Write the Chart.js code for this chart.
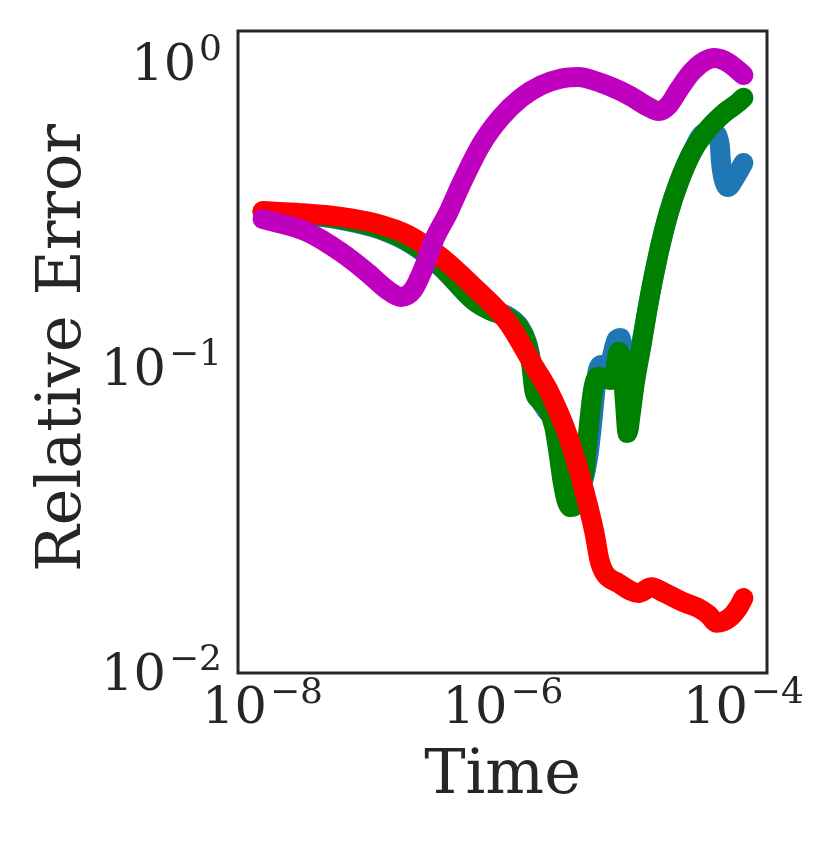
<!DOCTYPE html>
<html>
<head>
<meta charset="utf-8">
<script src="https://cdn.jsdelivr.net/npm/chart.js@4/dist/chart.umd.min.js"></script>
<style>
  html, body { margin: 0; padding: 0; background: #ffffff; }
  #c { display: block; }
</style>
</head>
<body>
<canvas id="c" width="830" height="851"></canvas>
<script>
// ---- data (log-log axes) ----
const blueTime = [1.00e-8, 2.07e-8, 4.47e-8, 9.64e-8, 1.72e-7, 3.05e-7, 5.75e-7, 7.97e-7, 1.06e-6, 1.37e-6,
  1.59e-6, 1.72e-6, 1.82e-6, 2.00e-6, 2.29e-6, 2.67e-6, 3.00e-6, 3.18e-6, 3.37e-6, 3.71e-6,
  4.16e-6, 4.67e-6, 5.14e-6, 5.44e-6, 5.76e-6, 6.11e-6, 6.59e-6, 7.40e-6, 7.99e-6, 8.80e-6,
  9.49e-6, 1.01e-5, 1.045e-5, 1.086e-5, 1.151e-5, 1.242e-5, 1.421e-5, 1.66e-5, 1.97e-5, 2.39e-5,
  2.89e-5, 3.71e-5, 4.77e-5, 5.66e-5, 6.36e-5, 6.48e-5, 6.73e-5, 7.41e-5, 8.48e-5, 1.00e-4];
const blueError = [0.325, 0.318, 0.306, 0.284, 0.255, 0.214, 0.166, 0.154, 0.149, 0.137,
  0.121, 0.105, 0.090, 0.080, 0.0728, 0.0686, 0.0617, 0.0538, 0.0463, 0.0404,
  0.0389, 0.0429, 0.0519, 0.0626, 0.0785, 0.0970, 0.1023, 0.0970, 0.1078, 0.1235,
  0.1254, 0.1023, 0.0815, 0.0675, 0.0756, 0.0913, 0.1217, 0.171, 0.238, 0.322,
  0.404, 0.507, 0.590, 0.590, 0.538, 0.481, 0.429, 0.392, 0.420, 0.470];

const greenTime = [1.00e-8, 2.07e-8, 4.47e-8, 9.64e-8, 1.72e-7, 3.05e-7, 5.75e-7, 7.97e-7, 1.06e-6, 1.37e-6,
  1.59e-6, 1.72e-6, 1.82e-6, 2.00e-6, 2.34e-6, 2.67e-6, 2.89e-6, 3.12e-6, 3.37e-6, 3.64e-6,
  4.00e-6, 4.40e-6, 4.76e-6, 5.04e-6, 5.34e-6, 5.65e-6, 6.11e-6, 6.85e-6, 7.84e-6, 8.63e-6,
  9.14e-6, 9.68e-6, 1.01e-5, 1.045e-5, 1.086e-5, 1.151e-5, 1.242e-5, 1.421e-5, 1.66e-5, 1.97e-5,
  2.39e-5, 2.89e-5, 3.71e-5, 4.77e-5, 6.60e-5, 9.16e-5, 1.00e-4];
const greenError = [0.325, 0.320, 0.308, 0.286, 0.257, 0.216, 0.166, 0.154, 0.147, 0.135,
  0.119, 0.102, 0.0847, 0.0785, 0.0740, 0.0640, 0.0530, 0.0429, 0.0369, 0.0350,
  0.0355, 0.0398, 0.0463, 0.0581, 0.0728, 0.0860, 0.0934, 0.0927, 0.0913, 0.100,
  0.113, 0.105, 0.0880, 0.0728, 0.0612, 0.0701, 0.0880, 0.119, 0.171, 0.238,
  0.322, 0.404, 0.507, 0.590, 0.675, 0.745, 0.770];

const redTime = [1.00e-8, 2.07e-8, 4.47e-8, 8.44e-8, 1.62e-7, 3.05e-7, 5.75e-7, 1.10e-6, 1.82e-6, 2.38e-6,
  3.50e-6, 4.49e-6, 5.77e-6, 6.34e-6, 6.98e-6, 9.14e-6, 1.34e-5, 1.72e-5, 2.21e-5, 3.25e-5,
  4.25e-5, 5.14e-5, 6.00e-5, 7.55e-5, 9.16e-5, 1.00e-4];
const redError = [0.327, 0.322, 0.313, 0.299, 0.273, 0.231, 0.184, 0.141, 0.101, 0.0847,
  0.0594, 0.0429, 0.0288, 0.0235, 0.0213, 0.0197, 0.0183, 0.0191, 0.0183, 0.0170,
  0.0163, 0.0155, 0.0146, 0.0151, 0.0165, 0.0176];

const magentaTime = [1.00e-8, 2.37e-8, 4.47e-8, 7.51e-8, 1.10e-7, 1.42e-7, 1.78e-7, 2.16e-7, 2.67e-7, 3.49e-7,
  4.48e-7, 6.58e-7, 9.66e-7, 1.42e-6, 2.08e-6, 3.06e-6, 4.24e-6, 5.76e-6, 7.99e-6, 1.11e-5,
  1.63e-5, 1.97e-5, 2.39e-5, 2.89e-5, 3.71e-5, 4.77e-5, 5.77e-5, 7.55e-5, 1.00e-4];
const magentaError = [0.308, 0.279, 0.240, 0.205, 0.180, 0.171, 0.180, 0.210, 0.263, 0.322,
  0.400, 0.540, 0.665, 0.770, 0.845, 0.890, 0.900, 0.875, 0.834, 0.785,
  0.717, 0.696, 0.728, 0.816, 0.934, 1.015, 1.038, 1.000, 0.913];

const xTickValues = [1e-8, 1e-6, 1e-4];
const xTickExponents = ['\u22128', '\u22126', '\u22124'];
const yTickValues = [1e-2, 1e-1, 1];
const yTickExponents = ['\u22122', '\u22121', '0'];
const xAxisTitle = 'Time';
const yAxisTitle = 'Relative Error';

// ---- helpers ----
function pairs(ts, vs) { return ts.map((t, i) => ({ x: t, y: vs[i] })); }
function series(ts, vs, color, order) {
  return {
    data: pairs(ts, vs),
    showLine: true,
    borderColor: color,
    backgroundColor: color,
    borderWidth: 20,
    borderCapStyle: 'round',
    borderJoinStyle: 'round',
    pointRadius: 0,
    pointHoverRadius: 0,
    cubicInterpolationMode: 'monotone',
    order: order,
    clip: 0
  };
}

const TEXT = '#262626';
const SERIF = '"DejaVu Serif", "Liberation Serif", serif';

const mplAxes = {
  id: 'mplAxes',
  afterDraw(chart) {
    const { ctx, chartArea: a, scales: { x, y } } = chart;
    ctx.save();
    // frame (all four spines)
    ctx.strokeStyle = TEXT;
    ctx.lineWidth = 3;
    ctx.strokeRect(a.left, a.top, a.right - a.left, a.bottom - a.top);

    ctx.fillStyle = TEXT;
    ctx.textBaseline = 'alphabetic';
    ctx.textAlign = 'left';
    const big = '51px ' + SERIF, small = '36px ' + SERIF;
    function powLabel(exp, anchorX, baseline, align) {
      ctx.font = big; const w1 = ctx.measureText('10').width;
      ctx.font = small; const w2 = ctx.measureText(exp).width;
      const gap = 3;
      const total = w1 + gap + w2;
      const left = align === 'center' ? anchorX - total / 2 : anchorX - total;
      ctx.font = big; ctx.fillText('10', left, baseline);
      ctx.font = small; ctx.fillText(exp, left + w1 + gap, baseline - 20);
    }
    xTickValues.forEach((v, i) => {
      powLabel(xTickExponents[i], x.getPixelForValue(v), a.bottom + 50, 'center');
    });
    yTickValues.forEach((v, i) => {
      powLabel(yTickExponents[i], a.left - 16, y.getPixelForValue(v) + 17, 'right');
    });

    // axis titles
    ctx.font = '62px ' + SERIF;
    ctx.textAlign = 'center';
    ctx.fillText(xAxisTitle, (a.left + a.right) / 2, a.bottom + 120);
    ctx.save();
    ctx.translate(80, (a.top + a.bottom) / 2 - 4);
    ctx.rotate(-Math.PI / 2);
    ctx.fillText(yAxisTitle, 0, 0);
    ctx.restore();
    ctx.restore();
  }
};

new Chart(document.getElementById('c').getContext('2d'), {
  type: 'scatter',
  data: {
    datasets: [
      series(blueTime, blueError, '#1f77b4', 4),
      series(greenTime, greenError, '#008000', 3),
      series(redTime, redError, '#ff0000', 2),
      series(magentaTime, magentaError, '#bf00bf', 1)
    ]
  },
  options: {
    responsive: false,
    animation: false,
    devicePixelRatio: 1,
    layout: { padding: { left: 238, right: 63, top: 31, bottom: 178 } },
    plugins: { legend: { display: false }, tooltip: { enabled: false } },
    events: [],
    scales: {
      x: { type: 'logarithmic', display: false, min: Math.pow(10, -8.204), max: Math.pow(10, -3.804) },
      y: { type: 'logarithmic', display: false, min: 0.01, max: Math.pow(10, 0.105) }
    }
  },
  plugins: [mplAxes]
});
</script>
</body>
</html>
